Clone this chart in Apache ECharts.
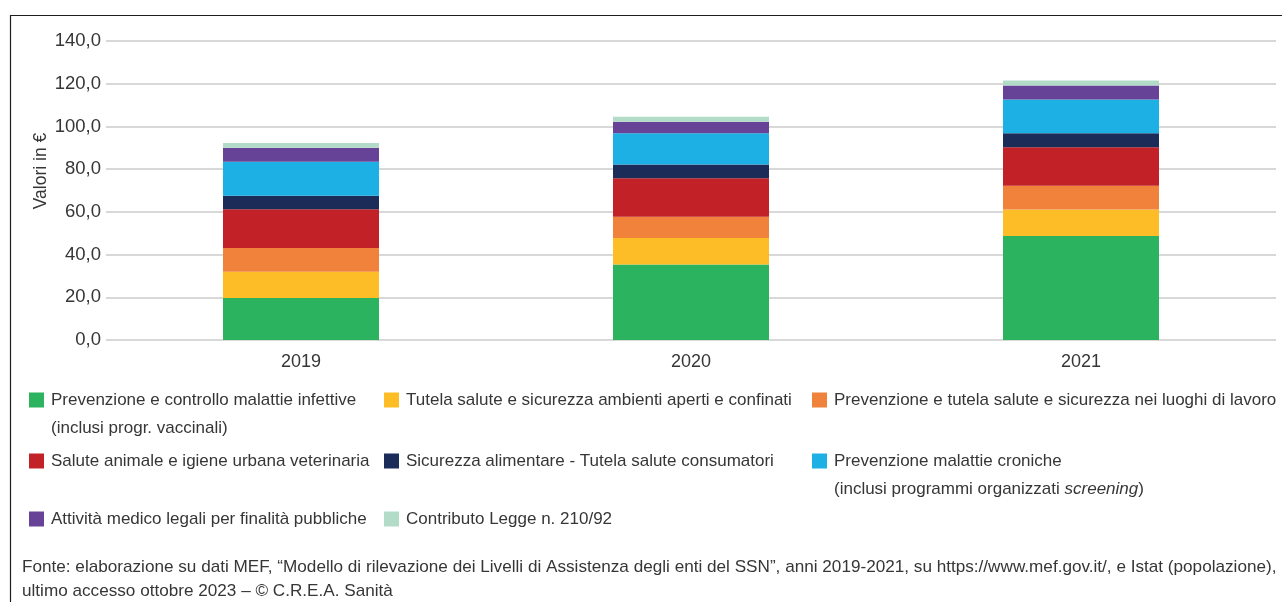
<!DOCTYPE html>
<html>
<head>
<meta charset="utf-8">
<script src="https://cdn.jsdelivr.net/npm/echarts@6/dist/echarts.min.js"></script>
<style>
  html, body { margin: 0; padding: 0; background: #fff; }
  #chart { width: 1282px; height: 602px; }
</style>
</head>
<body>
<div id="chart"></div>
<script>
// Spesa pro capite per la Prevenzione collettiva e sanità pubblica (€), per area
const years = ['2019', '2020', '2021'];
const infettive    = [19.7, 35.3, 48.7];
const ambienti     = [12.3, 12.5, 12.4];
const lavoro       = [11.1,  9.9, 11.1];
const veterinaria  = [18.1, 18.0, 18.0];
const alimentare   = [ 6.4,  6.5,  6.6];
const croniche     = [15.9, 14.6, 15.8];
const medicoLegali = [ 6.5,  5.4,  6.6];
const legge210     = [ 2.2,  2.3,  2.3];
const yTicks = [0, 20, 40, 60, 80, 100, 120, 140];

const seriesNames = [
  'Prevenzione e controllo malattie infettive',
  'Tutela salute e sicurezza ambienti aperti e confinati',
  'Prevenzione e tutela salute e sicurezza nei luoghi di lavoro',
  'Salute animale e igiene urbana veterinaria',
  'Sicurezza alimentare - Tutela salute consumatori',
  'Prevenzione malattie croniche',
  'Attività medico legali per finalità pubbliche',
  'Contributo Legge n. 210/92'
];
// second legend line, as rich-text fragments
const secondLines = {
  0: '{n|(inclusi progr. vaccinali)}',
  5: '{n|(inclusi programmi organizzati }{i|screening}{n|)}'
};
const seriesData = [infettive, ambienti, lavoro, veterinaria, alimentare, croniche, medicoLegali, legge210];
const colors = ['#2bb35f', '#fdbd26', '#f0823c', '#c22127', '#1c2c58', '#1cb0e4', '#674398', '#b3dcc8'];

const FONT = "'Liberation Sans', Arial, sans-serif";
const TXT = '#363636';
const fmt = v => v.toFixed(1).replace('.', ',');

// legend placement: [square left, square centre y]
const legendPos = [[29, 400], [384, 400], [812, 400], [29, 461], [384, 461], [812, 461], [29, 519], [384, 519]];

const legends = seriesNames.map((name, i) => {
  const multi = secondLines[i] !== undefined;
  return {
    data: [name],
    left: legendPos[i][0],
    top: legendPos[i][1] - (multi ? 42 : 14),
    padding: 0,
    icon: 'rect',
    itemWidth: 15,
    itemHeight: 15,
    selectedMode: false,
    formatter: n => '{n|' + n + '}' + (multi ? '\n' + secondLines[i] : ''),
    textStyle: {
      color: TXT,
      fontFamily: FONT,
      fontSize: 17,
      lineHeight: 28,
      padding: multi ? [28, 0, 0, 2] : [0, 0, 0, 2],
      rich: {
        n: { color: TXT, fontFamily: FONT, fontSize: 17, lineHeight: 28 },
        i: { color: TXT, fontFamily: FONT, fontSize: 17, lineHeight: 28, fontStyle: 'italic' }
      }
    }
  };
});

const chart = echarts.init(document.getElementById('chart'), null, { renderer: 'canvas' });
chart.setOption({
  animation: false,
  backgroundColor: '#fff',
  grid: { left: 106, right: 6, top: 41, bottom: 262, containLabel: false },
  legend: legends,
  xAxis: {
    type: 'category',
    data: years,
    axisLine: { show: false },
    axisTick: { show: false },
    axisLabel: { color: TXT, fontFamily: FONT, fontSize: 18, margin: 13 }
  },
  yAxis: {
    type: 'value',
    min: yTicks[0],
    max: yTicks[yTicks.length - 1],
    interval: yTicks[1] - yTicks[0],
    axisLine: { show: false },
    axisTick: { show: false },
    axisLabel: { color: TXT, fontFamily: FONT, fontSize: 18.5, margin: 5, formatter: fmt },
    splitLine: { lineStyle: { color: '#d8d8d8', width: 2 } }
  },
  series: seriesNames.map((name, i) => ({
    name: name,
    type: 'bar',
    stack: 'tot',
    barWidth: '40%',
    data: seriesData[i],
    itemStyle: { color: colors[i] }
  })),
  graphic: [
    {
      type: 'polyline',
      shape: { points: [[10.5, 602], [10.5, 15.5], [1282, 15.5]] },
      style: { stroke: '#1e1e1e', lineWidth: 1.2, fill: null },
      silent: true
    },
    {
      type: 'text',
      x: 41, y: 171,
      rotation: Math.PI / 2,
      style: {
        text: 'Valori in €', fill: TXT, font: '17.5px ' + FONT,
        align: 'center', verticalAlign: 'middle'
      }
    },
    {
      type: 'text',
      left: 22, top: 555,
      style: {
        text: 'Fonte: elaborazione su dati MEF, “Modello di rilevazione dei Livelli di Assistenza degli enti del SSN”, anni 2019-2021, su https://www.mef.gov.it/, e Istat (popolazione),\nultimo accesso ottobre 2023 – © C.R.E.A. Sanità',
        fill: TXT, font: '17.15px ' + FONT, lineHeight: 24
      }
    }
  ]
});
</script>
</body>
</html>
